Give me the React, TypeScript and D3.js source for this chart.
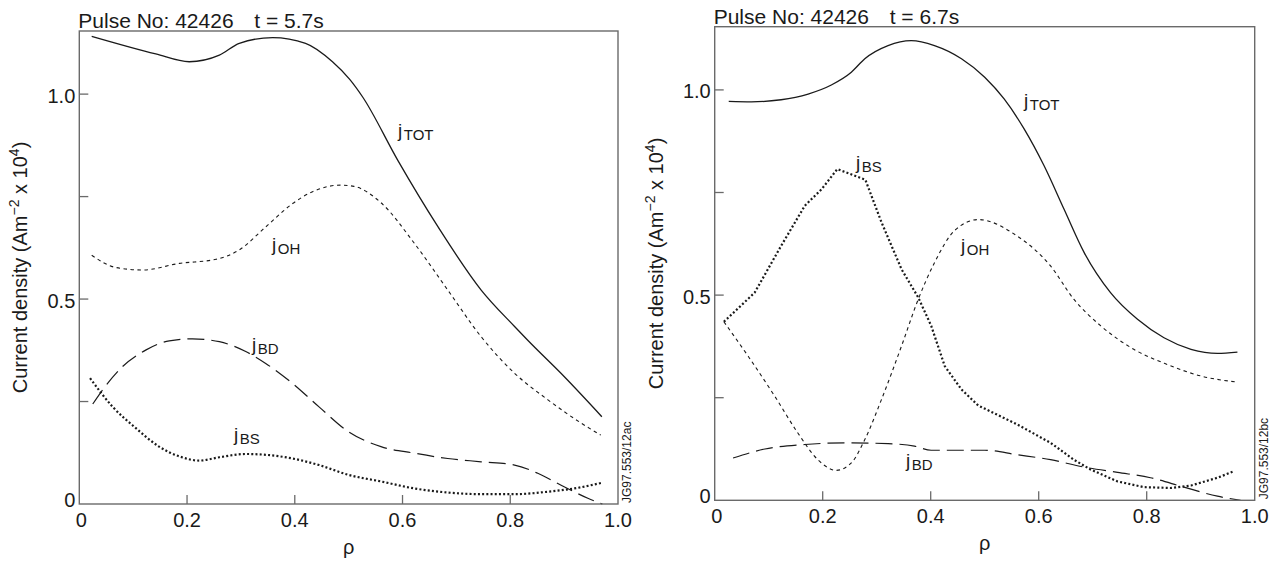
import React from "react";
import * as d3 from "d3";

// ---------- data: t = 5.7 s ----------
const rhoTot57 = [0.023, 0.142, 0.204, 0.26, 0.297, 0.359, 0.42, 0.47, 0.502, 0.526, 0.591, 0.666, 0.746, 0.808, 0.832, 0.9, 0.97];
const jTot57 = [1.141, 1.098, 1.079, 1.095, 1.124, 1.138, 1.124, 1.079, 1.036, 0.993, 0.839, 0.676, 0.522, 0.433, 0.4, 0.311, 0.213];

const rhoOh57 = [0.023, 0.068, 0.118, 0.186, 0.254, 0.297, 0.346, 0.396, 0.433, 0.485, 0.51, 0.56, 0.622, 0.684, 0.746, 0.808, 0.87, 0.932, 0.968];
const jOh57 = [0.607, 0.577, 0.571, 0.587, 0.597, 0.62, 0.676, 0.733, 0.762, 0.778, 0.775, 0.735, 0.636, 0.522, 0.408, 0.319, 0.254, 0.197, 0.168];

const rhoBd57 = [0.025, 0.043, 0.08, 0.124, 0.167, 0.21, 0.26, 0.309, 0.346, 0.396, 0.445, 0.5, 0.56, 0.622, 0.684, 0.746, 0.808, 0.851, 0.9, 0.944, 0.971];
const jBd57 = [0.244, 0.278, 0.335, 0.376, 0.398, 0.403, 0.396, 0.372, 0.343, 0.294, 0.237, 0.176, 0.14, 0.124, 0.111, 0.103, 0.095, 0.075, 0.042, 0.014, 0.0];

const rhoBs57 = [0.02, 0.062, 0.105, 0.148, 0.186, 0.223, 0.26, 0.309, 0.346, 0.396, 0.445, 0.5, 0.56, 0.622, 0.684, 0.746, 0.808, 0.87, 0.919, 0.971];
const jBs57 = [0.307, 0.237, 0.185, 0.14, 0.116, 0.106, 0.114, 0.122, 0.12, 0.111, 0.095, 0.071, 0.055, 0.038, 0.028, 0.024, 0.024, 0.03, 0.038, 0.052];

// ---------- data: t = 6.7 s ----------
const rhoTot67 = [0.026, 0.068, 0.123, 0.173, 0.216, 0.253, 0.278, 0.321, 0.364, 0.407, 0.457, 0.5, 0.536, 0.573, 0.61, 0.647, 0.684, 0.733, 0.783, 0.832, 0.882, 0.931, 0.968];
const jTot67 = [0.972, 0.971, 0.976, 0.99, 1.012, 1.043, 1.076, 1.108, 1.12, 1.108, 1.076, 1.031, 0.978, 0.905, 0.815, 0.709, 0.604, 0.506, 0.441, 0.396, 0.368, 0.358, 0.361];

const rhoOh67 = [0.017, 0.062, 0.111, 0.154, 0.191, 0.225, 0.253, 0.278, 0.309, 0.346, 0.377, 0.407, 0.444, 0.488, 0.56, 0.622, 0.665, 0.715, 0.776, 0.838, 0.9, 0.968];
const jOh67 = [0.435, 0.351, 0.254, 0.164, 0.099, 0.073, 0.091, 0.148, 0.246, 0.376, 0.49, 0.579, 0.657, 0.684, 0.644, 0.571, 0.49, 0.425, 0.368, 0.331, 0.303, 0.288];

const rhoBd67 = [0.034, 0.093, 0.167, 0.247, 0.321, 0.37, 0.401, 0.5, 0.56, 0.622, 0.684, 0.746, 0.807, 0.869, 0.931, 0.974];
const jBd67 = [0.103, 0.125, 0.136, 0.14, 0.138, 0.132, 0.122, 0.122, 0.111, 0.099, 0.081, 0.068, 0.055, 0.032, 0.01, 0.0];

const rhoBs67 = [0.017, 0.074, 0.123, 0.167, 0.198, 0.227, 0.279, 0.309, 0.346, 0.377, 0.401, 0.426, 0.457, 0.488, 0.56, 0.622, 0.665, 0.696, 0.746, 0.795, 0.844, 0.882, 0.931, 0.962];
const jBs67 = [0.435, 0.506, 0.62, 0.718, 0.758, 0.807, 0.781, 0.677, 0.563, 0.494, 0.425, 0.327, 0.27, 0.231, 0.185, 0.14, 0.099, 0.075, 0.046, 0.032, 0.03, 0.036, 0.055, 0.071];

// ---------- axes ----------
const xTicks = [0, 0.2, 0.4, 0.6, 0.8, 1.0];
const xTickLabels = ["0", "0.2", "0.4", "0.6", "0.8", "1.0"];
const yTicks = [0, 0.25, 0.5, 0.75, 1.0];
const yTickLabels = ["0", "", "0.5", "", "1.0"];
const yMax = 1.154;

const FONT = "'Liberation Sans', Arial, Helvetica, sans-serif";
const INK = "#1a1a1a";
const FRAME = "#6a6a6a";

type Series = { rho: number[]; j: number[]; style: "solid" | "short" | "long" | "dot"; curve: any };
type Lbl = { sub: string; x: number; y: number };
type PanelDef = {
  x0: number; x1: number; top: number; bottom: number;
  time: string; code: string; series: Series[]; labels: Lbl[];
};

const styleOf = (s: Series["style"]) => {
  switch (s) {
    case "solid": return { strokeWidth: 1.3, dash: undefined };
    case "short": return { strokeWidth: 1.1, dash: "3.5 3.5" };
    case "long": return { strokeWidth: 1.2, dash: "17 7" };
    case "dot": return { strokeWidth: 2.2, dash: "2 2.2" };
  }
};

const panels: PanelDef[] = [
  {
    x0: 79.3, x1: 618, top: 31, bottom: 504, time: "5.7s", code: "JG97.553/12ac",
    series: [
      { rho: rhoTot57, j: jTot57, style: "solid", curve: d3.curveMonotoneX },
      { rho: rhoOh57, j: jOh57, style: "short", curve: d3.curveMonotoneX },
      { rho: rhoBd57, j: jBd57, style: "long", curve: d3.curveMonotoneX },
      { rho: rhoBs57, j: jBs57, style: "dot", curve: d3.curveMonotoneX },
    ],
    labels: [
      { sub: "TOT", x: 398, y: 137 },
      { sub: "OH", x: 272, y: 251 },
      { sub: "BD", x: 252, y: 351 },
      { sub: "BS", x: 234, y: 441 },
    ],
  },
  {
    x0: 714.7, x1: 1254.7, top: 26.7, bottom: 500.3, time: "6.7s", code: "JG97.553/12bc",
    series: [
      { rho: rhoTot67, j: jTot67, style: "solid", curve: d3.curveMonotoneX },
      { rho: rhoOh67, j: jOh67, style: "short", curve: d3.curveMonotoneX },
      { rho: rhoBd67, j: jBd67, style: "long", curve: d3.curveMonotoneX },
      { rho: rhoBs67, j: jBs67, style: "dot", curve: d3.curveLinear },
    ],
    labels: [
      { sub: "TOT", x: 1024, y: 107 },
      { sub: "BS", x: 856, y: 169 },
      { sub: "OH", x: 961, y: 252 },
      { sub: "BD", x: 906, y: 467 },
    ],
  },
];

function Panel({ p }: { p: PanelDef }) {
  const x = d3.scaleLinear().domain([0, 1]).range([p.x0, p.x1]);
  const y = d3.scaleLinear().domain([0, yMax]).range([p.bottom, p.top]);
  const tick = 9;
  const midY = (p.top + p.bottom) / 2;
  const midX = (p.x0 + p.x1) / 2;
  const yTitleX = p.x0 - 59;
  return (
    <g fontFamily={FONT} fill={INK}>
      {/* title */}
      <text x={p.x0 - 1} y={p.top - 3} fontSize={21}>Pulse No: 42426</text>
      <text x={p.x0 + 175} y={p.top - 3} fontSize={21}>{`t = ${p.time}`}</text>

      {/* curves */}
      {p.series.map((s, i) => {
        const pts = s.rho.map((r, k) => [r, s.j[k]] as [number, number]);
        const line = d3.line<[number, number]>().x((d) => x(d[0])).y((d) => y(d[1])).curve(s.curve);
        const st = styleOf(s.style)!;
        return (
          <path key={i} d={line(pts) || ""} fill="none" stroke={INK}
            strokeWidth={st.strokeWidth} strokeDasharray={st.dash} />
        );
      })}

      {/* frame */}
      <rect x={p.x0} y={p.top} width={p.x1 - p.x0} height={p.bottom - p.top}
        fill="none" stroke={FRAME} strokeWidth={1.4} />

      {/* x ticks */}
      {xTicks.map((t, i) => (
        <g key={"x" + i}>
          {t > 0 && t < 1 && (
            <line x1={x(t)} x2={x(t)} y1={p.bottom} y2={p.bottom - tick} stroke={FRAME} strokeWidth={1.3} />
          )}
          <text x={x(t) + (t === 0 ? 2 : 0)} y={p.bottom + 22.5} fontSize={20} textAnchor="middle">{xTickLabels[i]}</text>
        </g>
      ))}

      {/* y ticks */}
      {yTicks.map((t, i) => (
        <g key={"y" + i}>
          {t > 0 && (
            <line x1={p.x0} x2={p.x0 + tick} y1={y(t)} y2={y(t)} stroke={FRAME} strokeWidth={1.3} />
          )}
          {yTickLabels[i] && (
            <text x={p.x0 - 4} y={t === 0 ? y(t) + 2.5 : y(t) + 8.5} fontSize={20} textAnchor="end">{yTickLabels[i]}</text>
          )}
        </g>
      ))}

      {/* axis titles */}
      <text x={midX} y={p.bottom + 50} fontSize={20} textAnchor="middle">ρ</text>
      <text transform={`translate(${yTitleX + 7},${midY}) rotate(-90)`} fontSize={20} textAnchor="middle">
        Current density (Am<tspan fontSize={14} dy={-8}>−2</tspan>
        <tspan dy={8}> x 10</tspan>
        <tspan fontSize={14} dy={-8}>4</tspan>
        <tspan dy={8}>)</tspan>
      </text>

      {/* figure code */}
      <text transform={`translate(${p.x1 + 13},${p.bottom - 1}) rotate(-90)`} fontSize={12}>{p.code}</text>

      {/* curve labels */}
      {p.labels.map((l, i) => (
        <text key={"l" + i} x={l.x} y={l.y} fontSize={19}>
          j<tspan fontSize={15} dy={3} dx={1.5}>{l.sub}</tspan>
        </text>
      ))}
    </g>
  );
}

export default function App() {
  return (
    <svg width={1283} height={565} viewBox="0 0 1283 565"
      style={{ position: "absolute", left: 0, top: 0, background: "#fff" }}>
      <rect x={0} y={0} width={1283} height={565} fill="#fff" />
      {panels.map((p, i) => <Panel key={i} p={p} />)}
    </svg>
  );
}
